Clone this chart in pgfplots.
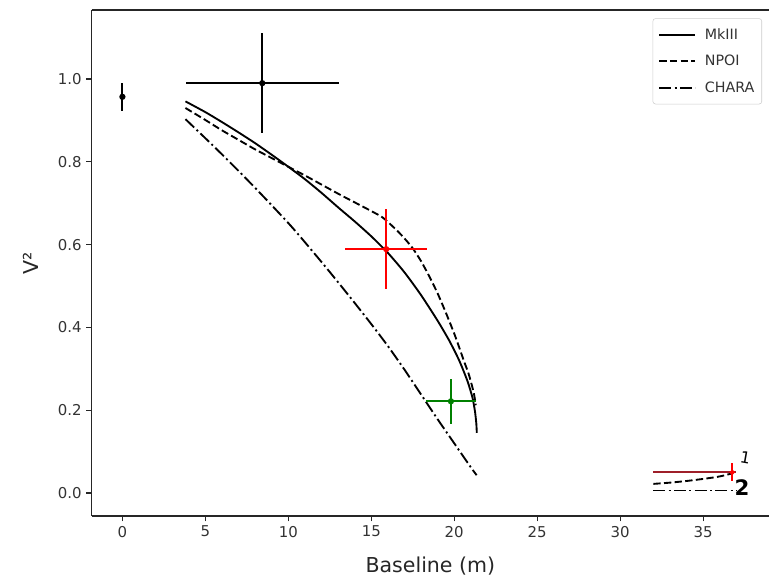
\documentclass[border=0pt]{standalone}
\usepackage{pgfplots}
\pgfplotsset{compat=1.18}
\usepackage{fontspec}
\setmainfont{DejaVu Sans}
\definecolor{mplgreen}{rgb}{0,0.5,0}
\definecolor{darkredbar}{rgb}{0.62,0.12,0.16}
\begin{document}
\begin{tikzpicture}
\begin{axis}[
  scale only axis, width=507.97pt, height=379.5pt,
  xmin=-1.85, xmax=38.97, ymin=-0.0556, ymax=1.1667,
  separate axis lines, axis x line*=box, axis y line*=left,
  axis line style={black!85, line width=0.9pt},
  xtick={0,5,10,15,20,25,30,35}, ytick={0,0.2,0.4,0.6,0.8,1.0},
  tick align=outside, xtick pos=left, ytick pos=left,
  major tick length=4pt, tick style={black!85, line width=0.9pt},
  /pgf/number format/assume math mode=true,
  ticklabel style={font=\fontsize{11.2}{13}\selectfont, text=black!80},
  yticklabel style={/pgf/number format/.cd, fixed, fixed zerofill, precision=1},
  xlabel={Baseline (m)}, ylabel={V²},
  label style={font=\fontsize{15.4}{18}\selectfont, text=black!85},
  xlabel style={at={(axis description cs:0.5,-0.0988)}, anchor=center},
  ylabel style={at={(axis description cs:-0.090,0.5)}, anchor=center},
  legend style={at={(axis description cs:0.9897,0.9836)}, anchor=north east,
    draw=black!20, rounded corners=2pt, fill=white,
    font=\fontsize{10.7}{12}\selectfont, text=black!80,
    inner xsep=4pt, inner ysep=6pt, row sep=7.3pt, column sep=5pt,
    nodes={inner sep=1.5pt}},
  legend cell align=left,
  legend image code/.code={\draw[#1, line width=1.5pt] (0pt,0pt) -- (27pt,0pt);},
  every axis plot/.append style={line width=1.4pt},
]
% MkIII
\addplot[black, solid, smooth, tension=0.4] coordinates {
(3.8,0.946)(5,0.920)(6,0.896)(7,0.871)(8,0.845)(9,0.817)(10,0.788)(11,0.758)
(12,0.725)(13,0.690)(14,0.656)(15,0.620)(16,0.580)(17,0.533)(18,0.478)
(19,0.416)(19.7,0.368)(20.3,0.320)(20.8,0.270)(21.1,0.230)(21.25,0.197)(21.33,0.168)(21.36,0.145)};
\addlegendentry{MkIII}
% NPOI
\addplot[black, smooth, tension=0.4, dash pattern=on 5.5pt off 2.5pt] coordinates {
(3.8,0.930)(5,0.901)(6,0.876)(7,0.853)(8,0.830)(9,0.809)(10,0.788)(11,0.767)
(12,0.745)(13,0.723)(14,0.702)(15,0.681)(15.7,0.665)(16.5,0.636)(17,0.615)
(17.5,0.591)(18,0.560)(18.5,0.523)(19,0.482)(19.5,0.435)(20,0.385)(20.34,0.347)
(20.6,0.317)(20.85,0.290)(21.05,0.262)(21.2,0.237)(21.3,0.212)};
\addlegendentry{NPOI}
% CHARA
\addplot[black, smooth, tension=0.4, dash pattern=on 9pt off 2.5pt on 1.5pt off 2.5pt] coordinates {
(3.8,0.903)(5,0.857)(6,0.818)(7,0.778)(8,0.737)(9,0.695)(10,0.652)(10.7,0.620)
(12,0.558)(12.9,0.514)(14,0.459)(15,0.408)(16,0.355)(17,0.298)(18,0.238)
(19,0.178)(20,0.120)(21,0.062)(21.35,0.043)};
\addlegendentry{CHARA}
% second lobe
\addplot[black, solid, forget plot] coordinates {(32.0,0.050)(37.0,0.050)};
\addplot[black, smooth, dash pattern=on 5.5pt off 2.5pt, forget plot] coordinates {
(32.0,0.022)(33,0.025)(34,0.029)(35,0.034)(36,0.040)(36.8,0.048)};
\addplot[black, dash pattern=on 9pt off 2.5pt on 1.5pt off 2.5pt, forget plot] coordinates {
(32.0,0.006)(37.0,0.006)};
% data with error bars
\addplot[black, only marks, mark=*, mark size=1.6pt, forget plot,
  error bars/.cd, x dir=both, x explicit, y dir=both, y explicit, error mark=none,
  error bar style={line width=1.4pt, black}] coordinates {
(0,0.957) +- (0,0.034)
(8.43,0.99) +- (4.62,0.12)};
\addplot[red, only marks, mark=*, mark size=1.6pt, forget plot,
  error bars/.cd, x dir=both, x explicit, y dir=both, y explicit, error mark=none,
  error bar style={line width=1.4pt, red}] coordinates {
(15.9,0.589) +- (2.48,0.097)};
\addplot[mplgreen, only marks, mark=*, mark size=1.6pt, forget plot,
  error bars/.cd, x dir=both, x explicit, y dir=both, y explicit, error mark=none,
  error bar style={line width=1.5pt, mplgreen}] coordinates {
(19.8,0.2215) +- (1.5,0.055)};
\addplot[darkredbar, line width=1.4pt, forget plot] coordinates {(32.0,0.050)(37.0,0.050)};
\addplot[red, only marks, mark=*, mark size=1.2pt, forget plot,
  error bars/.cd, y dir=both, y explicit, error mark=none,
  error bar style={line width=1.4pt, red}] coordinates {
(36.75,0.05) +- (0,0.022)};
\node[font=\bfseries\fontsize{16}{16}\selectfont] at (axis cs:37.35,0.013) {2};
\node[font=\fontsize{12}{12}\selectfont, rotate=-10] at (axis cs:37.55,0.085) {1};
\end{axis}
\pgfresetboundingbox
\path ([shift={(-68.78pt,-45pt)}]current axis.south west) rectangle ([shift={(0pt,7.5pt)}]current axis.north east);
\end{tikzpicture}
\end{document}
